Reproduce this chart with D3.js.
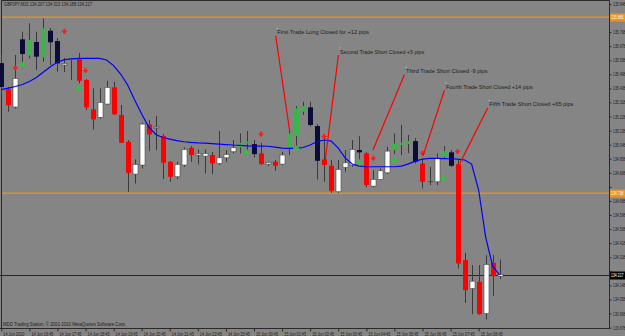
<!DOCTYPE html>
<html lang="en">
<head>
<meta charset="UTF-8">
<title>GBPJPY,M15</title>
<script src="https://cdnjs.cloudflare.com/ajax/libs/d3/7.8.5/d3.min.js"></script>
<style>
    body { margin: 0; background: #858585; }
    svg { display: block; }
    text { font-family: 'Liberation Sans', Arial, sans-serif; }
</style>
</head>
<body>
<svg id="chart" width="625" height="336"></svg>
<script>
// candle data (15 min bars, 14 Jun 15:45 .. 15 Jun 09:30)
const kinds = 'n r w n g n g n n w w r r r w w r r r w w r w r r w w r w w r w w w g g n r w r w g g g n n r r w w w n r w w w g g g n r r w g n r r w r w r w'.split(' ');
const opens = [135.570,135.402,135.289,135.722,135.617,135.705,135.607,135.777,135.711,135.558,135.598,135.600,135.462,135.274,135.223,135.308,135.415,135.238,135.067,134.860,134.918,135.178,135.161,135.103,134.939,134.843,134.918,135.028,134.982,134.975,134.982,134.928,134.964,135.003,135.031,135.056,135.052,134.992,134.924,134.939,134.924,135.024,135.103,135.259,135.287,135.167,134.954,134.913,134.747,134.903,134.918,135.014,134.992,134.783,134.826,134.868,135.014,135.046,135.052,135.071,134.928,134.815,134.811,134.971,134.999,134.924,134.310,134.128,134.171,133.968,134.292,134.207];
const highs = [135.628,135.417,135.622,135.771,135.824,135.771,135.856,135.794,135.730,135.602,135.602,135.636,135.468,135.408,135.408,135.457,135.451,135.302,135.078,134.954,135.188,135.206,135.231,135.116,134.943,134.937,135.031,135.039,135.018,135.018,135.001,135.135,135.014,135.078,135.120,135.135,135.078,135.060,134.939,134.950,135.003,135.152,135.295,135.323,135.323,135.180,135.099,134.950,134.950,135.014,135.078,135.103,135.000,134.886,134.896,135.035,135.120,135.174,135.110,135.090,134.960,134.907,134.992,135.039,135.014,134.950,134.356,134.278,134.278,134.342,134.342,134.313];
const lows = [135.366,135.259,135.279,135.536,135.600,135.526,135.579,135.558,135.515,135.513,135.462,135.440,135.270,135.146,135.214,135.302,135.238,135.058,134.747,134.800,134.896,135.007,135.014,134.828,134.811,134.828,134.906,134.939,134.922,134.864,134.860,134.918,134.939,134.992,134.992,134.982,134.967,134.918,134.913,134.881,134.918,134.982,135.031,135.238,135.163,134.826,134.811,134.740,134.740,134.875,134.906,134.945,134.775,134.775,134.822,134.860,134.988,134.982,134.994,134.928,134.768,134.790,134.790,134.962,134.906,134.256,134.036,133.964,133.960,133.930,134.079,134.188];
const closes = [135.417,135.300,135.472,135.628,135.718,135.611,135.792,135.703,135.568,135.568,135.598,135.457,135.287,135.210,135.319,135.415,135.242,135.060,134.868,134.922,135.180,135.114,135.161,134.932,134.843,134.922,135.018,134.982,134.992,134.992,134.928,134.964,134.986,135.028,135.060,135.067,134.988,134.924,134.935,134.913,134.982,135.120,135.280,135.295,135.174,134.945,134.918,134.753,134.890,134.932,135.018,134.999,134.790,134.826,134.881,135.007,135.056,135.060,135.071,134.939,134.811,134.811,134.960,135.007,134.913,134.288,134.118,134.175,133.964,134.282,134.207,134.217];

// moving average
const maValues = [135.400,135.410,135.420,135.433,135.452,135.478,135.513,135.547,135.577,135.592,135.597,135.600,135.600,135.600,135.600,135.590,135.554,135.500,135.430,135.334,135.244,135.161,135.113,135.094,135.084,135.074,135.067,135.063,135.060,135.058,135.055,135.052,135.049,135.046,135.044,135.041,135.039,135.039,135.038,135.033,135.026,135.024,135.024,135.030,135.046,135.068,135.078,135.071,135.026,134.962,134.924,134.911,134.907,134.907,134.907,134.907,134.907,134.911,134.925,134.943,134.956,134.960,134.960,134.959,134.958,134.956,134.950,134.924,134.758,134.457,134.271,134.214];

// signal arrows
const sellBars = [2, 9, 12, 37, 46, 53, 60, 65];
const sellPrices = [135.538, 135.771, 135.521, 135.114, 135.099, 134.960, 134.992, 135.003];
const buyBars = [3, 11, 35, 42, 51, 56, 63];
const buyPrices = [135.558, 135.408, 134.996, 135.024, 134.935, 134.945, 134.832];

// trade notes
const noteTexts = ['First Trade Long Closed for +12 pips', 'Second Trade Short Closed +5 pips', 'Third Trade Short Closed -9 pips', 'Fourth Trade Short Closed +14 pips', 'Fifth Trade Short Closed +65 pips'];
const noteBars = [39.32, 48.25, 57.65, 63.35, 69.52];
const notePrices = [135.767, 135.643, 135.519, 135.419, 135.306];
const noteEndBars = [41.1, 46.1, 52.95, 60.07, 65.34];
const noteEndPrices = [135.129, 134.932, 135.014, 134.975, 134.930];

// levels
const orangeLevels = [135.865, 134.738];
const lastPrice = 134.217;

// axis labels
const priceTicks = [133.878,133.968,134.058,134.148,134.238,134.328,134.418,134.508,134.598,134.688,134.778,134.868,134.958,135.048,135.138,135.228,135.318,135.408,135.498,135.588,135.678,135.768,135.858,135.948];
const timeTickBars = [0,4,8,12,16,20,24,28,32,36,40,44,48,52,56,60,64,68];
const timeLabels = ['14 Jun 2010','14 Jun 16:45','14 Jun 17:45','14 Jun 18:45','14 Jun 19:45','14 Jun 20:45','14 Jun 21:45','14 Jun 22:45','14 Jun 23:45','15 Jun 00:45','15 Jun 01:45','15 Jun 02:45','15 Jun 03:45','15 Jun 04:45','15 Jun 05:45','15 Jun 06:45','15 Jun 07:45','15 Jun 08:45'];

const svg = d3.select('#chart');
const plotRight = 609;
const plotBottom = 328.5;

const x = d3.scaleLinear().domain([0, 71]).range([1.3, 499.7]);
const y = d3.scaleLinear().domain([133.878, 135.948]).range([327.6, 4]);

const bodyFill = { r: '#ff0000', w: '#ffffff', g: '#3cb44a', n: '#0c0c38' };
const bodyW = 5;
const orange = '#e8922a';

// frame
svg.append('path')
    .attr('d', `M1.5,328.5 V0.5 H${plotRight + 0.5} V${plotBottom}`)
    .attr('fill', 'none').attr('stroke', '#2a2a2a').attr('stroke-width', 1);
svg.append('line')
    .attr('x1', 0).attr('x2', plotRight + 0.5)
    .attr('y1', plotBottom).attr('y2', plotBottom)
    .attr('stroke', '#2a2a2a');

// title + copyright
svg.append('text').attr('x', 4).attr('y', 6.3)
    .attr('font-size', 5.4).attr('fill', '#1c1c1c')
    .attr('textLength', 88).attr('lengthAdjust', 'spacingAndGlyphs')
    .text(`GBPJPY,M15  ${opens[71].toFixed(3)} ${highs[71].toFixed(3)} ${lows[71].toFixed(3)} ${closes[71].toFixed(3)}`);
svg.append('text').attr('x', 3).attr('y', 326)
    .attr('font-size', 5).attr('fill', '#1c1c1c')
    .attr('textLength', 123).attr('lengthAdjust', 'spacingAndGlyphs')
    .text('MDD Trading Station, \u00A9 2001-2010 MetaQuotes Software Corp.');

// orange levels
orangeLevels.forEach(p => {
    const ly = Math.round(y(p));
    svg.append('rect')
        .attr('x', 2).attr('y', ly - 0.5)
        .attr('width', plotRight - 2).attr('height', 1.4)
        .attr('fill', orange);
    svg.append('line')
        .attr('x1', 2).attr('x2', plotRight)
        .attr('y1', ly + 0.2).attr('y2', ly + 0.2)
        .attr('stroke', '#9a7a50').attr('stroke-width', 0.5)
        .attr('stroke-dasharray', '1,3');
});

// last price line
svg.append('line')
    .attr('x1', 0).attr('x2', plotRight)
    .attr('y1', Math.round(y(lastPrice)) + 0.5).attr('y2', Math.round(y(lastPrice)) + 0.5)
    .attr('stroke', '#262626').attr('stroke-width', 1);

// candles
const idx = d3.range(opens.length);
svg.append('g').selectAll('line')
    .data(idx).join('line')
    .attr('x1', i => Math.round(x(i)) + 0.5).attr('x2', i => Math.round(x(i)) + 0.5)
    .attr('y1', i => y(highs[i])).attr('y2', i => y(lows[i]))
    .attr('stroke', '#3a3a3a').attr('stroke-width', 1);

svg.append('g').selectAll('rect')
    .data(idx).join('rect')
    .attr('x', i => Math.round(x(i)) + 0.5 - bodyW / 2)
    .attr('width', bodyW)
    .attr('y', i => Math.min(y(opens[i]), y(closes[i])))
    .attr('height', i => Math.max(1, Math.abs(y(opens[i]) - y(closes[i]))))
    .attr('fill', i => bodyFill[kinds[i]])
    .attr('stroke', i => kinds[i] === 'w' ? '#4a4a4a' : 'none')
    .attr('stroke-width', 0.6);

// moving average
svg.append('path')
    .datum(maValues)
    .attr('d', d3.line().x((d, i) => x(i)).y(d => y(d)))
    .attr('fill', 'none').attr('stroke', '#0000ff').attr('stroke-width', 1.2);

// sell arrows
svg.append('g').selectAll('path')
    .data(sellBars).join('path')
    .attr('transform', (b, k) => `translate(${x(b)},${y(sellPrices[k])})`)
    .attr('d', 'M-1,-2.8 h2 v2 h2 l-3,3.4 l-3,-3.4 h2 z')
    .attr('fill', '#ff1a1a');

// buy marks
svg.append('g').selectAll('path')
    .data(buyBars).join('path')
    .attr('transform', (b, k) => `translate(${x(b)},${y(buyPrices[k])})`)
    .attr('d', 'M-1,-3 h2 v2 h2 v2 h-2 v2 h-2 v-2 h-2 v-2 h2 z')
    .attr('fill', '#34c040');

// notes
noteTexts.forEach((t, k) => {
    const tx = x(noteBars[k]);
    const ty = y(notePrices[k]);
    svg.append('line')
        .attr('x1', tx - 1.6).attr('y1', ty + 3.6)
        .attr('x2', x(noteEndBars[k])).attr('y2', y(noteEndPrices[k]))
        .attr('stroke', '#ff0000').attr('stroke-width', 1.2);
    svg.append('rect')
        .attr('x', tx - 0.5).attr('y', ty - 4.3).attr('width', 1).attr('height', 1)
        .attr('fill', '#d0d0d0');
    svg.append('text')
        .attr('x', tx).attr('y', ty + 2)
        .attr('font-size', 5.7).attr('fill', '#1e1e1e')
        .attr('textLength', t.length * 2.55).attr('lengthAdjust', 'spacingAndGlyphs')
        .text(t);
});

// right price axis (labels under the level boxes are hidden, as in the terminal)
const boxLevels = [orangeLevels[0], orangeLevels[1], lastPrice];
const yAxis = d3.axisRight(y)
    .tickValues(priceTicks)
    .tickSize(2)
    .tickPadding(1.5)
    .tickFormat(d3.format('.3f'));
const gy = svg.append('g')
    .attr('transform', `translate(${plotRight + 0.5},0)`)
    .call(yAxis);
gy.select('.domain').remove();
gy.selectAll('line').attr('stroke', '#2a2a2a');
gy.selectAll('text')
    .attr('font-size', 4.6).attr('fill', '#1c1c1c')
    .attr('textLength', 12.5).attr('lengthAdjust', 'spacingAndGlyphs')
    .attr('font-family', "'Liberation Sans', Arial, sans-serif")
    .attr('display', d => boxLevels.some(b => Math.abs(y(b) - y(d)) < 7) ? 'none' : null);

// level boxes on the axis
const boxes = [
    { p: orangeLevels[0], fill: orange },
    { p: orangeLevels[1], fill: orange },
    { p: lastPrice, fill: '#000000' }
];
boxes.forEach(b => {
    const by = Math.round(y(b.p)) + 0.5;
    svg.append('rect')
        .attr('x', plotRight + 1).attr('y', by - 4)
        .attr('width', 625 - plotRight).attr('height', 8)
        .attr('fill', b.fill);
    svg.append('text')
        .attr('x', plotRight + 2).attr('y', by + 1.7)
        .attr('font-size', 4.6).attr('fill', '#ffffff')
        .attr('textLength', 12.5).attr('lengthAdjust', 'spacingAndGlyphs')
        .text(b.p.toFixed(3));
});

// bottom time axis
const xAxis = d3.axisBottom(x)
    .tickValues(timeTickBars)
    .tickSize(3)
    .tickPadding(1)
    .tickFormat((d, k) => timeLabels[k]);
const gx = svg.append('g')
    .attr('transform', `translate(0,${plotBottom})`)
    .call(xAxis);
gx.select('.domain').remove();
gx.selectAll('line').attr('stroke', '#2a2a2a');
gx.selectAll('text')
    .attr('text-anchor', 'start')
    .attr('dx', 1.5)
    .attr('font-size', 4.6).attr('fill', '#1c1c1c')
    .attr('textLength', (d, k) => k === 0 ? 21 : 22).attr('lengthAdjust', 'spacingAndGlyphs')
    .attr('font-family', "'Liberation Sans', Arial, sans-serif");
</script>
</body>
</html>
